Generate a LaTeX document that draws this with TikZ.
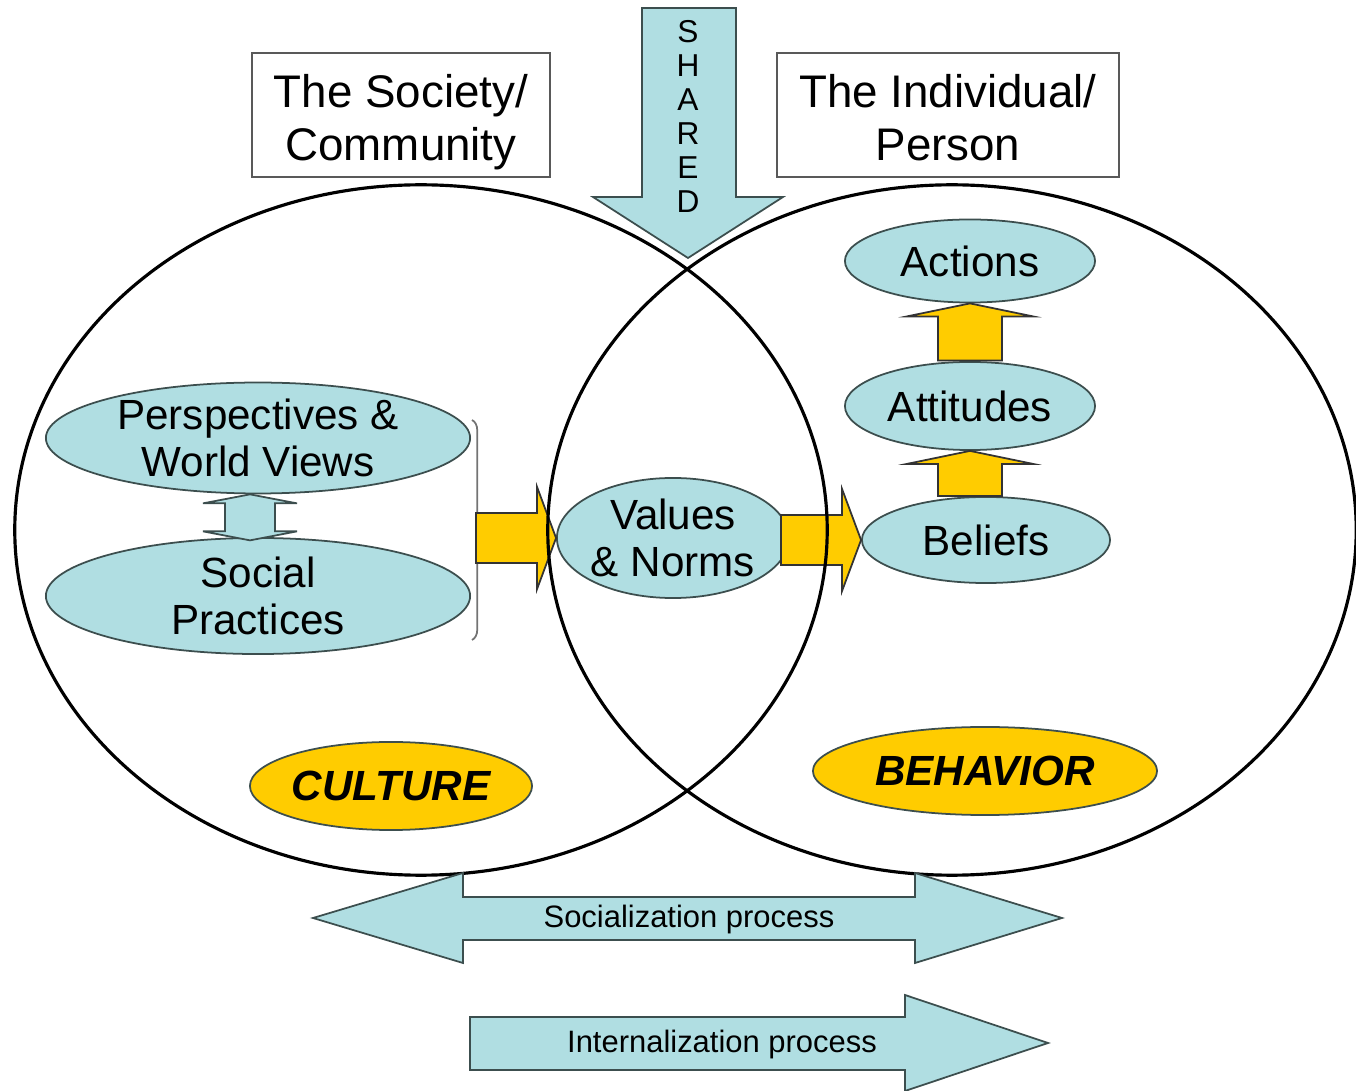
\documentclass[tikz,border=0pt]{standalone}
\usepackage{fontspec}
\setmainfont{Liberation Sans}
\usetikzlibrary{shapes.geometric,calc,decorations.pathreplacing}
\definecolor{paleteal}{RGB}{176,222,226}
\definecolor{gold}{RGB}{255,204,0}
\definecolor{edgegray}{RGB}{60,78,78}

\begin{document}
\begin{tikzpicture}[x=0.01cm,y=-0.01cm,
  bubble/.style={ellipse,draw=edgegray,line width=0.5pt,fill=paleteal,inner sep=0pt,align=center,font=\fontsize{12}{13.5}\selectfont},
  goldbubble/.style={bubble,fill=gold,font=\fontsize{12}{14}\selectfont\bfseries\itshape},
  titlebox/.style={draw=black!65,line width=0.6pt,minimum height=1.24cm,align=center,font=\fontsize{13}{15}\selectfont},
  ring/.style={ellipse,draw=black,line width=0.9pt,minimum height=6.9cm},
  bluearrow/.style={draw=edgegray,line width=0.5pt,fill=paleteal},
  yarrow/.style={draw=black!80,line width=0.5pt,fill=gold},
  tag/.style={font=\fontsize{8.8}{10}\selectfont}]

\useasboundingbox (0,0) rectangle (1356,1091);

% heading boxes
\node[titlebox,minimum width=2.98cm] (society) at (401,115) {\rule{0pt}{11pt}The Society/\\\raisebox{0pt}[\height][0pt]{Community}};
\node[titlebox,minimum width=3.42cm] (individual) at (948,115) {\rule{0pt}{11pt}The Individual/\\Person};

% bubbles
\node[bubble,minimum width=4.24cm,minimum height=1.07cm] (persp) at (258,438) {Perspectives \&\\World Views};
\node[bubble,minimum width=4.24cm,minimum height=1.16cm] (practices) at (258,596) {Social\\Practices};
\node[bubble,minimum width=2.2cm,minimum height=1.2cm] (values) at (673,538) {Values\\\& Norms};
\node[bubble,minimum width=2.48cm,minimum height=0.86cm] (beliefs) at (986,540) {Beliefs};
\node[bubble,minimum width=2.5cm,minimum height=0.88cm] (attitudes) at (970,406) {Attitudes};
\node[bubble,minimum width=2.5cm,minimum height=0.83cm] (actions) at (970,261) {Actions};
\node[goldbubble,minimum width=2.82cm,minimum height=0.88cm] (culture) at (391,786) {CULTURE};
\node[goldbubble,minimum width=3.44cm,minimum height=0.88cm] (behavior) at (985,771) {BEHAVIOR};

% shared arrow
\draw[bluearrow] (642,8) -- (736,8) -- (736,197) -- (783,197) -- (688,258) -- (593,197) -- (642,197) -- cycle;
\foreach \ch [count=\i] in {S,H,A,R,E,D}
  \node[font=\fontsize{9}{10}\selectfont] (shared\i) at (688,{32+34*(\i-1)}) {\ch};

% arrows between the bubbles
\draw[bluearrow,shift={(persp.south)}] (-8,0) -- (39,9) -- (17,9) -- (17,37) -- (39,37) -- (-8,46)
  -- (-55,37) -- (-33,37) -- (-33,9) -- (-55,9) -- cycle;
\draw[decorate,decoration={brace,amplitude=3pt},draw=black!55,line width=0.5pt] (472,420) -- (472,640);

\foreach \tgt in {values,beliefs}
  \draw[yarrow,shift={(\tgt.west)}] (0,0) -- (-19,-51) -- (-19,-25) -- (-80,-25) -- (-80,25) -- (-19,25) -- (-19,51) -- cycle;
\foreach \hi/\len in {actions/44,attitudes/32}
  \draw[yarrow] (\hi.south) -- ++(63,13) -- ++(-31,0) -- ++(0,\len) -- ++(-64,0) -- ++(0,-\len) -- ++(-31,0) -- cycle;

% the two circles
\node[ring,minimum width=8.12cm] (communityring) at (421,530) {};
\node[ring,minimum width=8.08cm] (personring) at (952,530) {};

% processes
\draw[bluearrow] (313,918) -- (463,873) -- (463,897) -- (915,897) -- (915,873) -- (1062,918)
  -- (915,963) -- (915,940) -- (463,940) -- (463,963) -- cycle;
\node[tag] (socialization) at (689,920) {Socialization process};
\draw[bluearrow] (470,1017) -- (905,1017) -- (905,995) -- (1048,1043) -- (905,1091) -- (905,1070) -- (470,1070) -- cycle;
\node[tag] (internalization) at (722,1045) {Internalization process};

\end{tikzpicture}
\end{document}
